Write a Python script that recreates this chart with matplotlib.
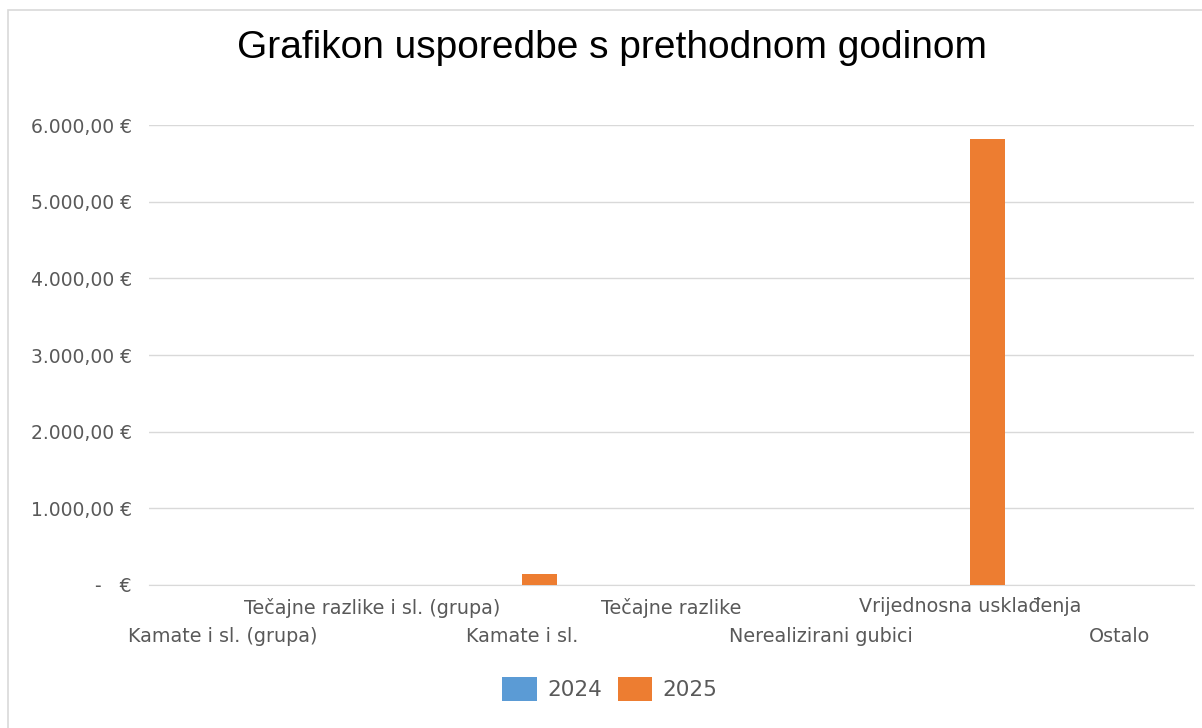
import numpy as np
import matplotlib.pyplot as plt
from matplotlib.patches import Rectangle
from matplotlib.ticker import FuncFormatter

# podaci
kategorije = ['Kamate i sl. (grupa)', 'Tečajne razlike i sl. (grupa)', 'Kamate i sl.',
              'Tečajne razlike', 'Nerealizirani gubici', 'Vrijednosna usklađenja', 'Ostalo']
god_2024 = [0, 0, 0, 0, 0, 0, 0]
god_2025 = [0, 0, 140, 0, 0, 5820, 0]
y_ticks = [0, 1000, 2000, 3000, 4000, 5000, 6000]

plava = '#5B9BD5'
narancasta = '#ED7D31'
siva = '#595959'

plt.rcParams['font.family'] = ['DejaVu Sans']

fig = plt.figure(figsize=(12.02, 7.28), dpi=100)
# okvir grafikona
fig.patches.append(Rectangle((8 / 1202, -0.1), 1.2, 1 - 10 / 728 + 0.1, transform=fig.transFigure,
                             fill=False, edgecolor='#D9D9D9', lw=1.2))

ax = fig.add_axes([148.5 / 1202, 1 - 585 / 728, (1194 - 148.5) / 1202, 460 / 728])
x = np.arange(len(kategorije))
w = 0.235
ax.bar(x - w / 2, god_2024, w, color=plava, label='2024', zorder=3)
ax.bar(x + w / 2, god_2025, w, color=narancasta, label='2025', zorder=3)

ax.set_xlim(-0.5, len(kategorije) - 0.5)
ax.set_ylim(0, 6000)
ax.set_yticks(y_ticks)


def eur(v, pos):
    if v == 0:
        return '-   €'
    s = '{:,.2f}'.format(v).replace(',', 'X').replace('.', ',').replace('X', '.')
    return s + ' €'


ax.yaxis.set_major_formatter(FuncFormatter(eur))
ax.grid(axis='y', color='#D9D9D9', lw=1, zorder=0)
for s in ['top', 'right', 'left']:
    ax.spines[s].set_visible(False)
ax.spines['bottom'].set_color('#D9D9D9')
ax.tick_params(axis='both', length=0, colors=siva)
ax.tick_params(axis='y', pad=12, labelsize=13.5)
ax.tick_params(axis='x', labelsize=13.8)

ax.set_xticks(x)
ax.set_xticklabels(kategorije)
for i, tick in enumerate(ax.xaxis.get_major_ticks()):
    tick.set_pad(30 if i % 2 == 0 else 9)

fig.text(612 / 1202, 1 - 48 / 728, 'Grafikon usporedbe s prethodnom godinom', family='Liberation Sans',
         fontsize=28, color='black', ha='center', va='center')

fig.legend(*ax.get_legend_handles_labels(), loc='center', bbox_to_anchor=(610 / 1202, 1 - 689 / 728),
           ncol=2, frameon=False, fontsize=15.5, handlelength=1.6, handleheight=1.3,
           columnspacing=0.7, labelcolor=siva, handletextpad=0.5)

fig.savefig('out.png', dpi=100)
